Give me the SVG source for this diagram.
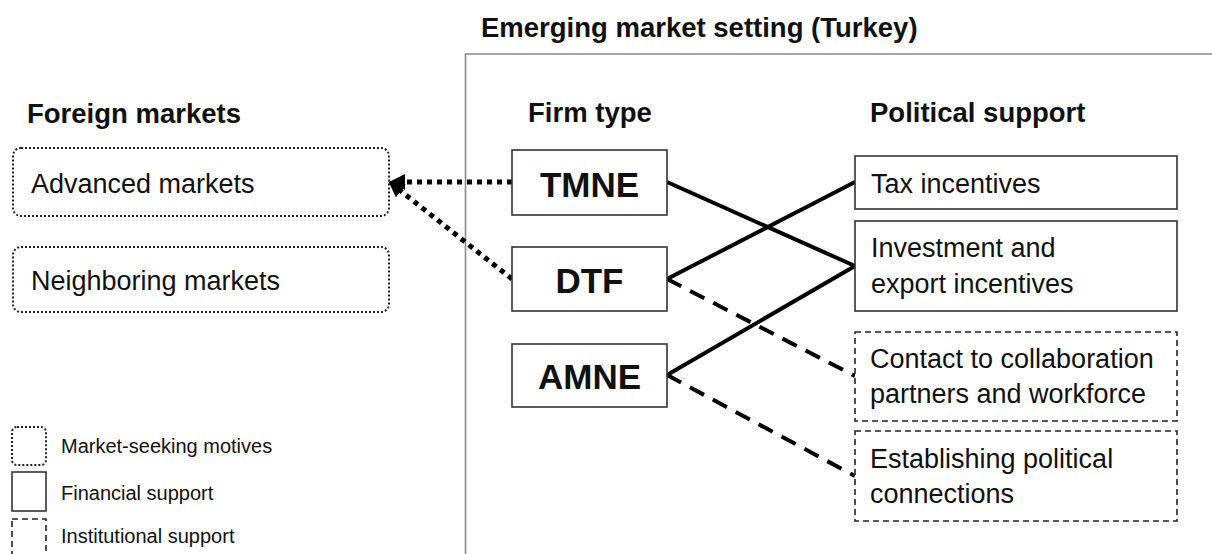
<svg xmlns="http://www.w3.org/2000/svg" width="1212" height="554" viewBox="0 0 1212 554">
<style>
text { font-family: "Liberation Sans", Arial, sans-serif; fill: #111; }
.h { font-size: 27.5px; font-weight: bold; }
.t { font-size: 27px; }
.firm { font-size: 35px; font-weight: bold; }
.leg { font-size: 20px; }
.solid { fill: #fff; stroke: #333; stroke-width: 1.6; }
.dot { fill: #fff; stroke: #222; stroke-width: 2; stroke-dasharray: 2 2; }
.dash { fill: #fff; stroke: #222; stroke-width: 1.6; stroke-dasharray: 6 4; }
.con { fill: none; stroke: #000; stroke-width: 4; }
.condash { fill: none; stroke: #000; stroke-width: 4; stroke-dasharray: 16 10; }
.condot { fill: none; stroke: #000; stroke-width: 5; stroke-dasharray: 5 5; }
</style>
<defs>
<marker id="arr" markerUnits="userSpaceOnUse" markerWidth="20" markerHeight="18" refX="5" refY="8" orient="auto">
<path d="M0,0 L16,8 L0,16 z" fill="#000"/>
</marker>
</defs>
<rect width="1212" height="554" fill="#fff"/>

<g id="container">
<path d="M465.5,554 V54 H1212" fill="none" stroke="#888" stroke-width="1.6"/>
<text class="h" x="481" y="37">Emerging market setting (Turkey)</text>
</g>

<g id="headers">
<text class="h" x="27" y="123">Foreign markets</text>
<text class="h" x="528" y="122">Firm type</text>
<text class="h" x="870" y="122">Political support</text>
</g>

<g id="connectors">
<line class="condot" x1="512" y1="182" x2="400" y2="182" marker-end="url(#arr)"/>
<line class="condot" x1="512" y1="279" x2="397" y2="188" marker-end="url(#arr)"/>
<line class="con" x1="667" y1="182" x2="855" y2="266"/>
<line class="con" x1="667" y1="279" x2="855" y2="182"/>
<line class="con" x1="667" y1="375" x2="855" y2="266"/>
<line class="condash" x1="667" y1="279" x2="855" y2="376"/>
<line class="condash" x1="667" y1="375" x2="855" y2="476"/>
</g>

<g id="advanced">
<rect class="dot" x="13" y="148" width="376" height="68" rx="8"/>
<text class="t" x="31" y="193">Advanced markets</text>
</g>
<g id="neighboring">
<rect class="dot" x="13" y="247" width="376" height="65" rx="8"/>
<text class="t" x="31" y="290">Neighboring markets</text>
</g>

<g id="tmne">
<rect class="solid" x="512" y="150" width="155" height="65"/>
<text class="firm" x="589.5" y="197" text-anchor="middle">TMNE</text>
</g>
<g id="dtf">
<rect class="solid" x="512" y="247" width="155" height="64"/>
<text class="firm" x="589.5" y="293" text-anchor="middle">DTF</text>
</g>
<g id="amne">
<rect class="solid" x="512" y="344" width="155" height="63"/>
<text class="firm" x="589.5" y="389" text-anchor="middle">AMNE</text>
</g>

<g id="tax">
<rect class="solid" x="855" y="156" width="322" height="53"/>
<text class="t" x="871" y="193">Tax incentives</text>
</g>
<g id="investment">
<rect class="solid" x="855" y="221" width="322" height="90"/>
<text class="t" x="871" y="257">Investment and</text>
<text class="t" x="871" y="293">export incentives</text>
</g>
<g id="contact">
<rect class="dash" x="855" y="332" width="322" height="89"/>
<text class="t" x="870" y="368">Contact to collaboration</text>
<text class="t" x="870" y="403">partners and workforce</text>
</g>
<g id="establishing">
<rect class="dash" x="855" y="431" width="322" height="90"/>
<text class="t" x="870" y="468">Establishing political</text>
<text class="t" x="870" y="503">connections</text>
</g>

<g id="legend">
<rect class="dot" x="12" y="427" width="34" height="38" rx="5"/>
<text class="leg" x="61" y="453">Market-seeking motives</text>
<rect class="solid" x="12" y="472" width="34" height="39"/>
<text class="leg" x="61" y="500">Financial support</text>
<rect class="dash" x="12" y="519" width="34" height="50"/>
<text class="leg" x="61" y="543">Institutional support</text>
</g>
</svg>
